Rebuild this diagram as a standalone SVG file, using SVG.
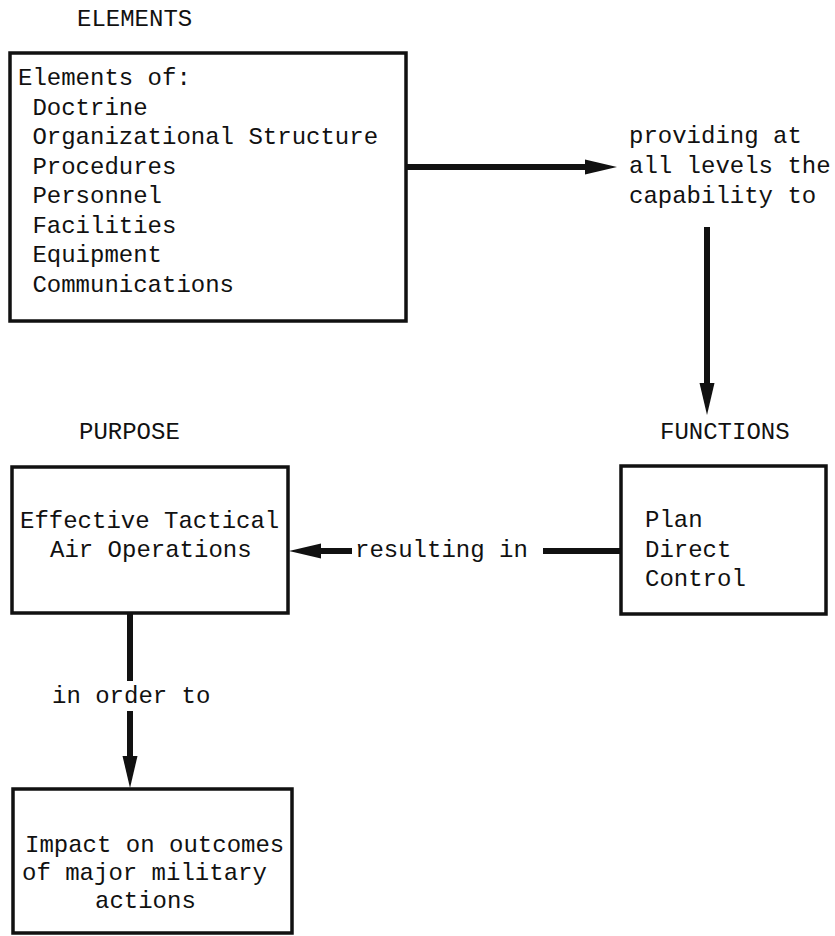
<svg xmlns="http://www.w3.org/2000/svg" width="835" height="936" viewBox="0 0 835 936">
<style>
text{font-family:"Liberation Mono","Courier New",monospace;font-size:24px;fill:#111;}
.box{fill:#fff;stroke:#111;stroke-width:3.5;}
.conn{fill:none;stroke:#111;stroke-width:6;}
</style>
<defs>
<marker id="ah" markerUnits="userSpaceOnUse" orient="auto" refX="0" refY="0" markerWidth="40" markerHeight="20" overflow="visible">
<path d="M0,-7.5 L32,0 L0,7.5 Z" fill="#111"/>
</marker>
</defs>
<rect width="835" height="936" fill="#fff"/>
<g id="labels">
<text x="77" y="26">ELEMENTS</text>
<text x="79" y="439">PURPOSE</text>
<text x="660" y="439">FUNCTIONS</text>
</g>
<g id="elements">
<rect class="box" x="10" y="53" width="396" height="268"/>
<text x="18" y="85">Elements of:</text>
<text x="32.4" y="115">Doctrine</text>
<text x="32.4" y="144">Organizational Structure</text>
<text x="32.4" y="174">Procedures</text>
<text x="32.4" y="203">Personnel</text>
<text x="32.4" y="233">Facilities</text>
<text x="32.4" y="262">Equipment</text>
<text x="32.4" y="292">Communications</text>
</g>
<g id="capability">
<text x="629" y="143">providing at</text>
<text x="629" y="173">all levels the</text>
<text x="629" y="203">capability to</text>
</g>
<g id="functions">
<rect class="box" x="621" y="466" width="205" height="148"/>
<text x="645" y="527">Plan</text>
<text x="645" y="557">Direct</text>
<text x="645" y="586">Control</text>
</g>
<g id="purpose">
<rect class="box" x="12" y="467" width="276" height="146"/>
<text x="20" y="528">Effective Tactical</text>
<text x="50" y="557">Air Operations</text>
</g>
<g id="impact">
<rect class="box" x="13" y="789" width="279" height="144"/>
<text x="25" y="852">Impact on outcomes</text>
<text x="22" y="880">of major military</text>
<text x="95" y="908">actions</text>
</g>
<g id="connectors">
<line class="conn" x1="406" y1="167" x2="585" y2="167" marker-end="url(#ah)"/>
<line class="conn" x1="707" y1="227" x2="707" y2="383" marker-end="url(#ah)"/>
<line class="conn" x1="352" y1="551" x2="321" y2="551" marker-end="url(#ah)"/>
<line class="conn" x1="543" y1="551" x2="621" y2="551"/>
<text x="355" y="557">resulting in</text>
<line class="conn" x1="130" y1="613" x2="130" y2="681"/>
<line class="conn" x1="130" y1="711" x2="130" y2="756" marker-end="url(#ah)"/>
<text x="52" y="703">in order to</text>
</g>
</svg>
